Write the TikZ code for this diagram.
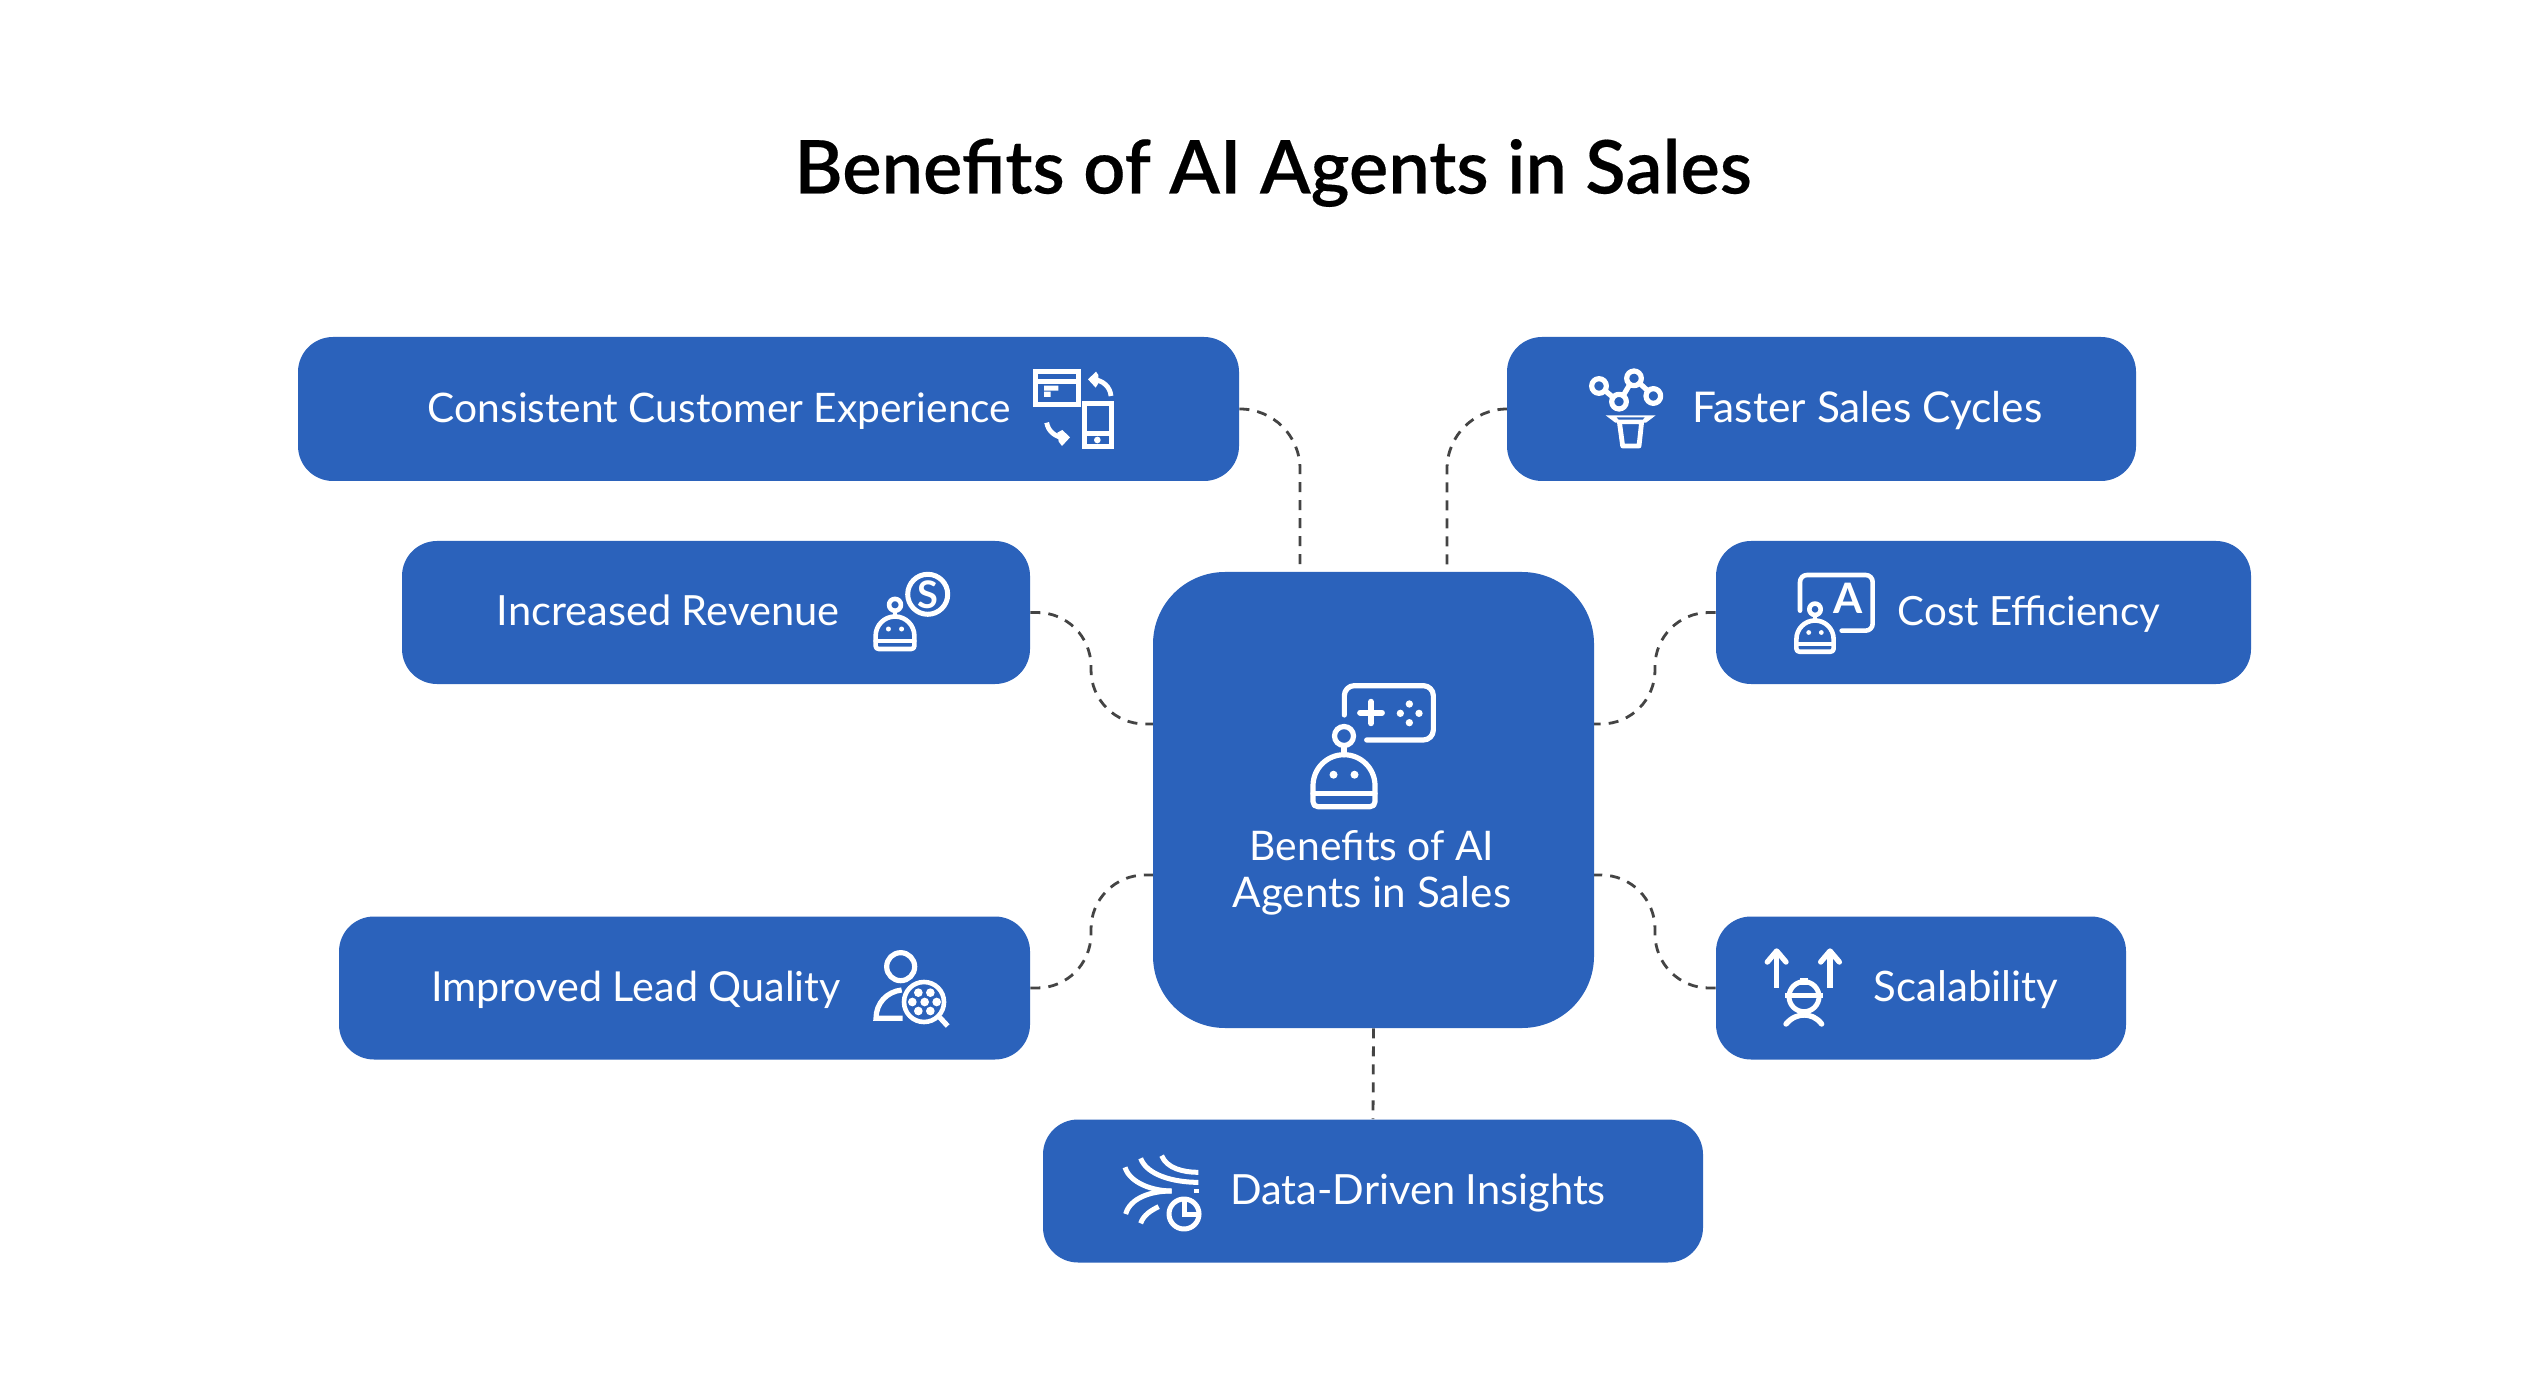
\documentclass[tikz,border=0pt]{standalone}
\usepackage{fontspec}
\setmainfont{Lato}
\newfontfamily\titlefont[FakeBold=0.25]{Lato Semibold}
\usetikzlibrary{calc}
\pgfdeclarelayer{back}
\pgfsetlayers{back,main}
\definecolor{boxblue}{HTML}{2B62BB}
\definecolor{dashgray}{HTML}{444444}
\tikzset{
  bluebox/.style={fill=boxblue,draw=none,rectangle,rounded corners=17.5pt,inner sep=0pt},
  hubbox/.style={fill=boxblue,draw=none,rectangle,rounded corners=36pt,inner sep=0pt},
  lbl/.style={text=white,anchor=base,inner sep=0pt,font=\fontsize{#1}{24}\selectfont},
  ttl/.style={text=black,anchor=base,inner sep=0pt,font=\fontsize{37}{42}\selectfont\titlefont},
  glyph/.style={text=white,inner sep=0pt,font=\bfseries},
  link/.style={draw=dashgray,line width=1.4pt,dash pattern=on 5pt off 4pt},
  ic/.style={draw=white,line width=#1,line cap=round,line join=round},
  ic/.default=2.3pt,
  icbutt/.style={draw=white,line width=#1,line cap=butt,line join=miter},
  icbutt/.default=2.4pt,
}
\newcommand{\iconrobot}[4]{%
  \begin{scope}[shift={(#1,#2)},scale=#3]
    \draw[ic=#4] (-31,-21) arc (180:360:31) -- (31,-5) .. controls (31,-2) and (29,0) .. (26,0)
      -- (-26,0) .. controls (-29,0) and (-31,-2) .. (-31,-5) -- cycle;
    \draw[ic=#4] (-31,-13) -- (31,-13);
    \draw[ic=#4] (0,-70.7) circle (9.5);
    \draw[ic=#4] (0,-61) -- (0,-52);
    \fill[white] (-10.5,-32) circle (4) (10.5,-32) circle (4);
  \end{scope}}
\begin{document}
\begin{tikzpicture}[x=0.5pt,y=-0.5pt]
\useasboundingbox (0,0) rectangle (2546,1384);
\begin{pgfonlayer}{back}
\fill[white] (0,0) rectangle (2546,1384);
\end{pgfonlayer}

\node[ttl] (title) at (1273,193.5) {Benefits of AI Agents in Sales};

% hub
\node[hubbox,minimum width=220.5pt,minimum height=228pt] (hub) at (1373.5,800) {};
\coordinate (hubNL) at (1300,590);
\coordinate (hubNR) at (1447,590);
\coordinate (hubWA) at (1170,724);
\coordinate (hubWB) at (1170,875);
\coordinate (hubEA) at (1577,724);
\coordinate (hubEB) at (1577,875);
\coordinate (bendWA) at (1091,668);
\coordinate (bendWB) at (1091,932);
\coordinate (bendEA) at (1655,668);
\coordinate (bendEB) at (1655,932);

% outer boxes
\node[bluebox,minimum width=470.5pt,minimum height=72pt] (consist) at (768.5,409) {};
\node[bluebox,minimum width=314pt,minimum height=71.5pt] (revenue) at (716,612.5) {};
\node[bluebox,minimum width=345.5pt,minimum height=71.5pt] (lead) at (684.5,988) {};
\node[bluebox,minimum width=314.5pt,minimum height=72pt] (faster) at (1821.5,409) {};
\node[bluebox,minimum width=267.5pt,minimum height=71.5pt] (cost) at (1983.5,612.5) {};
\node[bluebox,minimum width=205pt,minimum height=71.5pt] (scale) at (1921,988) {};
\node[bluebox,minimum width=330pt,minimum height=71.5pt] (data) at (1373,1191) {};

% connectors
\begin{pgfonlayer}{back}
\draw[link,rounded corners=30pt] (consist.east) -| (hubNL);
\draw[link,rounded corners=30pt] (faster.west) -| (hubNR);
\draw[link,rounded corners=27pt] (revenue.east) -- (revenue.east -| bendWA) -- (hubWA -| bendWA) -- (hubWA);
\draw[link,rounded corners=27pt] (lead.east) -- (lead.east -| bendWB) -- (hubWB -| bendWB) -- (hubWB);
\draw[link,rounded corners=27pt] (cost.west) -- (cost.west -| bendEA) -- (hubEA -| bendEA) -- (hubEA);
\draw[link,rounded corners=27pt] (scale.west) -- (scale.west -| bendEB) -- (hubEB -| bendEB) -- (hubEB);
\draw[link] (hub.south) -- (data.north);
\end{pgfonlayer}

% labels
\node[lbl=20.35] (tconsist) at (719.5,422.5) {Consistent Customer Experience};
\node[lbl=20.8] (trevenue) at (668,625.5) {Increased Revenue};
\node[lbl=20.65] (tlead) at (636,1001) {Improved Lead Quality};
\node[lbl=21.2] (tfaster) at (1867.5,422.5) {Faster Sales Cycles};
\node[lbl=20.15] (tcost) at (2029,625.5) {Cost Efficiency};
\node[lbl=21] (tscale) at (1966,1001) {Scalability};
\node[lbl=20.8] (tdata) at (1418,1204) {Data-Driven Insights};
\node[lbl=20.4] (thubA) at (1372,860) {Benefits of AI};
\node[lbl=21.1] (thubB) at (1372,907) {Agents in Sales};

% hub icon
\iconrobot{1344}{806.7}{1}{2.6pt}
\begin{scope}[shift={(1290,670)},scale=1/3]
  \draw[ic=2.6pt,rounded corners=5pt] (163,135) -- (163,47) -- (430,47) -- (430,210) -- (230,210);
  \draw[ic=2.9pt] (243,95) -- (243,160) (210,128) -- (276,128);
  \fill[white] (358,102) circle (11) (358,158) circle (11) (331,130) circle (11) (387,130) circle (11);
\end{scope}

% consistent icon
\begin{scope}[shift={(1000,320)},scale=1/3]
  \draw[icbutt=2.5pt] (107,154) rectangle (235,253);
  \draw[icbutt=2.3pt] (107,184) -- (235,184);
  \fill[white] (132,197) rectangle (175,212) (132,215) rectangle (152,231);
  \draw[icbutt=2.5pt] (254,252) rectangle (333,380);
  \draw[icbutt=2.3pt] (254,340) -- (333,340);
  \fill[white] (292,360) circle (10);
  \draw[icbutt=2.4pt] (333,228) .. controls (330,200) and (310,182) .. (280,178);
  \fill[white] (288,155) -- (264,178) -- (287,203) -- (295,190) -- (295,165) -- cycle;
  \draw[icbutt=2.4pt] (140,308) .. controls (145,335) and (165,350) .. (195,355);
  \fill[white] (210,352) -- (186,378) -- (176,365) -- (172,338) -- (187,330) -- cycle;
\end{scope}

% faster icon
\begin{scope}[shift={(1560,350)},scale=1/3]
  \draw[ic=2.6pt] (117,108) circle (22) (177,155) circle (22) (222,85) circle (22) (280,138) circle (22);
  \draw[ic=2.6pt] (135,122) -- (158,141) (190,136) -- (209,104) (239,100) -- (263,122);
  \fill[white] (137,196) -- (287,196) -- (258,218) -- (166,218) -- cycle;
  \draw[ic=2.4pt] (178,215) -- (245,215) -- (237,288) -- (188,288) -- cycle;
  \fill[boxblue] (170,202) -- (254,202) -- (248,209) -- (176,209) -- cycle;
\end{scope}

% revenue icon
\iconrobot{895}{649}{0.625}{2.3pt}
\draw[ic=2.5pt] (927.7,594.3) circle (20);
\node[glyph,font=\fontsize{19}{19}\selectfont\bfseries] (dollar) at (927.7,594.3) {S};

% cost icon
\iconrobot{1815}{651.7}{0.6}{2.3pt}
\begin{scope}[shift={(1780,560)},scale=1/3]
  \draw[ic=2.3pt,rounded corners=3.5pt] (60,152) -- (60,45) -- (278,45) -- (278,212) -- (185,212);
\end{scope}
\node[glyph,font=\fontsize{21}{21}\selectfont\bfseries] (letterA) at (1848.3,598) {A};

% lead icon
\begin{scope}[shift={(850,940)},scale=1/3]
  \draw[ic=2.6pt] (152,80) circle (42);
  \draw[icbutt=2.6pt] (155,150) .. controls (110,155) and (78,190) .. (78,235) -- (158,235);
  \draw[ic=2.3pt] (222,186) circle (60);
  \draw[icbutt=2.6pt] (269,232) -- (293,258);
  \foreach \p/\q in {205/158,241/158,187/186,224/186,260/186,205/213,241/213}
    \fill[white] (\p,\q) circle (13);
\end{scope}

% scalability icon
\begin{scope}[shift={(1750,940)},scale=1/3]
  \draw[icbutt=2.7pt] (80,143) -- (80,38);
  \draw[ic=2.7pt] (52,66) -- (80,33) -- (108,66);
  \draw[icbutt=2.7pt] (240,143) -- (240,38);
  \draw[ic=2.7pt] (212,66) -- (240,33) -- (268,66);
  \draw[ic=2.5pt] (162,170) circle (45);
  \draw[icbutt=2.7pt] (105,167) -- (218,167);
  \fill[white] (150,115) rectangle (175,135);
  \draw[ic=2.7pt] (108,252) .. controls (125,232) and (145,225) .. (162,225) .. controls (180,225) and (200,232) .. (215,252);
\end{scope}

% data icon
\begin{scope}[shift={(1110,1140)},scale=1/3]
  \draw[icbutt=2.5pt] (155,47) .. controls (170,85) and (220,97) .. (265,97);
  \draw[icbutt=2.5pt] (92,55) .. controls (110,105) and (190,127) .. (265,127);
  \draw[icbutt=2.5pt] (45,82) .. controls (60,130) and (130,153) .. (185,153);
  \draw[icbutt=2.5pt] (185,153) .. controls (120,153) and (60,175) .. (47,222);
  \draw[icbutt=2.5pt] (92,250) .. controls (100,225) and (125,210) .. (146,200);
  \draw[icbutt=2.2pt] (260,147) -- (260,160);
  \draw[ic=2.5pt] (222,222) circle (45);
  \draw[icbutt=2.5pt] (222,180) -- (222,222) -- (265,222);
\end{scope}
\end{tikzpicture}
\end{document}
